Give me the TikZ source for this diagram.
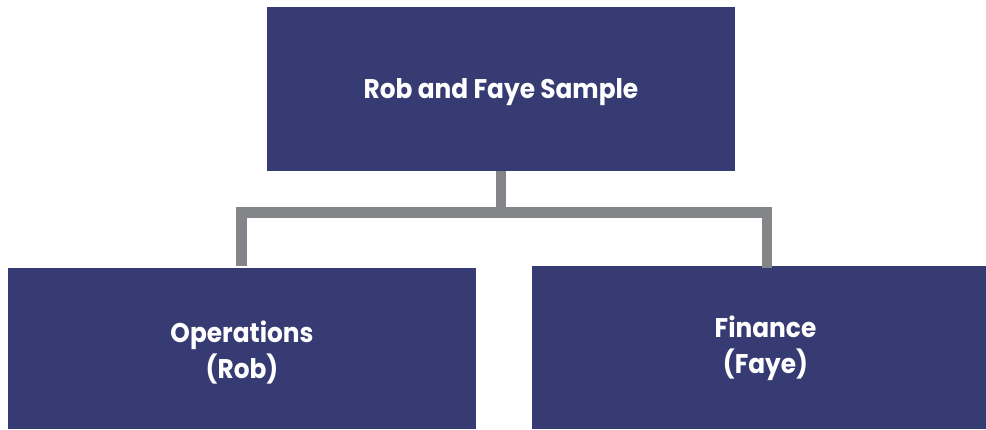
\documentclass[tikz,border=0pt]{standalone}
\usepackage{fontspec}
\setmainfont{Poppins}[FakeStretch=0.92]
\definecolor{navy}{HTML}{373B73}
\definecolor{conn}{HTML}{848589}
\begin{document}
\begin{tikzpicture}[x=1pt,y=-1pt,
  orgbox/.style={fill=navy,draw=none,inner sep=0pt},
  lbl/.style={text=white,font=\fontsize{27}{36}\selectfont\bfseries,align=center,inner sep=0pt},
  link/.style={draw=conn,line width=10.5pt}]
\useasboundingbox (0,0) rectangle (986,429);
\node[orgbox,minimum width=468pt,minimum height=164pt] (top) at (501,89) {};
\node[orgbox,minimum width=468pt,minimum height=161pt] (left) at (242,348.5) {};
\node[orgbox,minimum width=454pt,minimum height=163pt] (right) at (759,347.5) {};
\coordinate (tb) at (501,171);
\coordinate (hm) at (501,212.5);
\coordinate (hl) at (241.7,212.5);
\coordinate (hr) at (767,212.5);
\coordinate (le) at (241.7,265.7);
\coordinate (re) at (767,268.3);
\draw[link] (tb) -- (hm);
\draw[link,line join=miter] (le) -- (hl) -- (hr) -- (re);
\node[lbl,anchor=base] (t1) at (501,98) {Rob and Faye Sample};
\node[lbl,anchor=base] (l1) at (242,342) {Operations};
\node[lbl,anchor=base] (l2) at (242,378) {(Rob)};
\node[lbl,anchor=base] (r1) at (765.5,337) {Finance};
\node[lbl,anchor=base] (r2) at (765.5,373) {(Faye)};
\end{tikzpicture}
\end{document}
